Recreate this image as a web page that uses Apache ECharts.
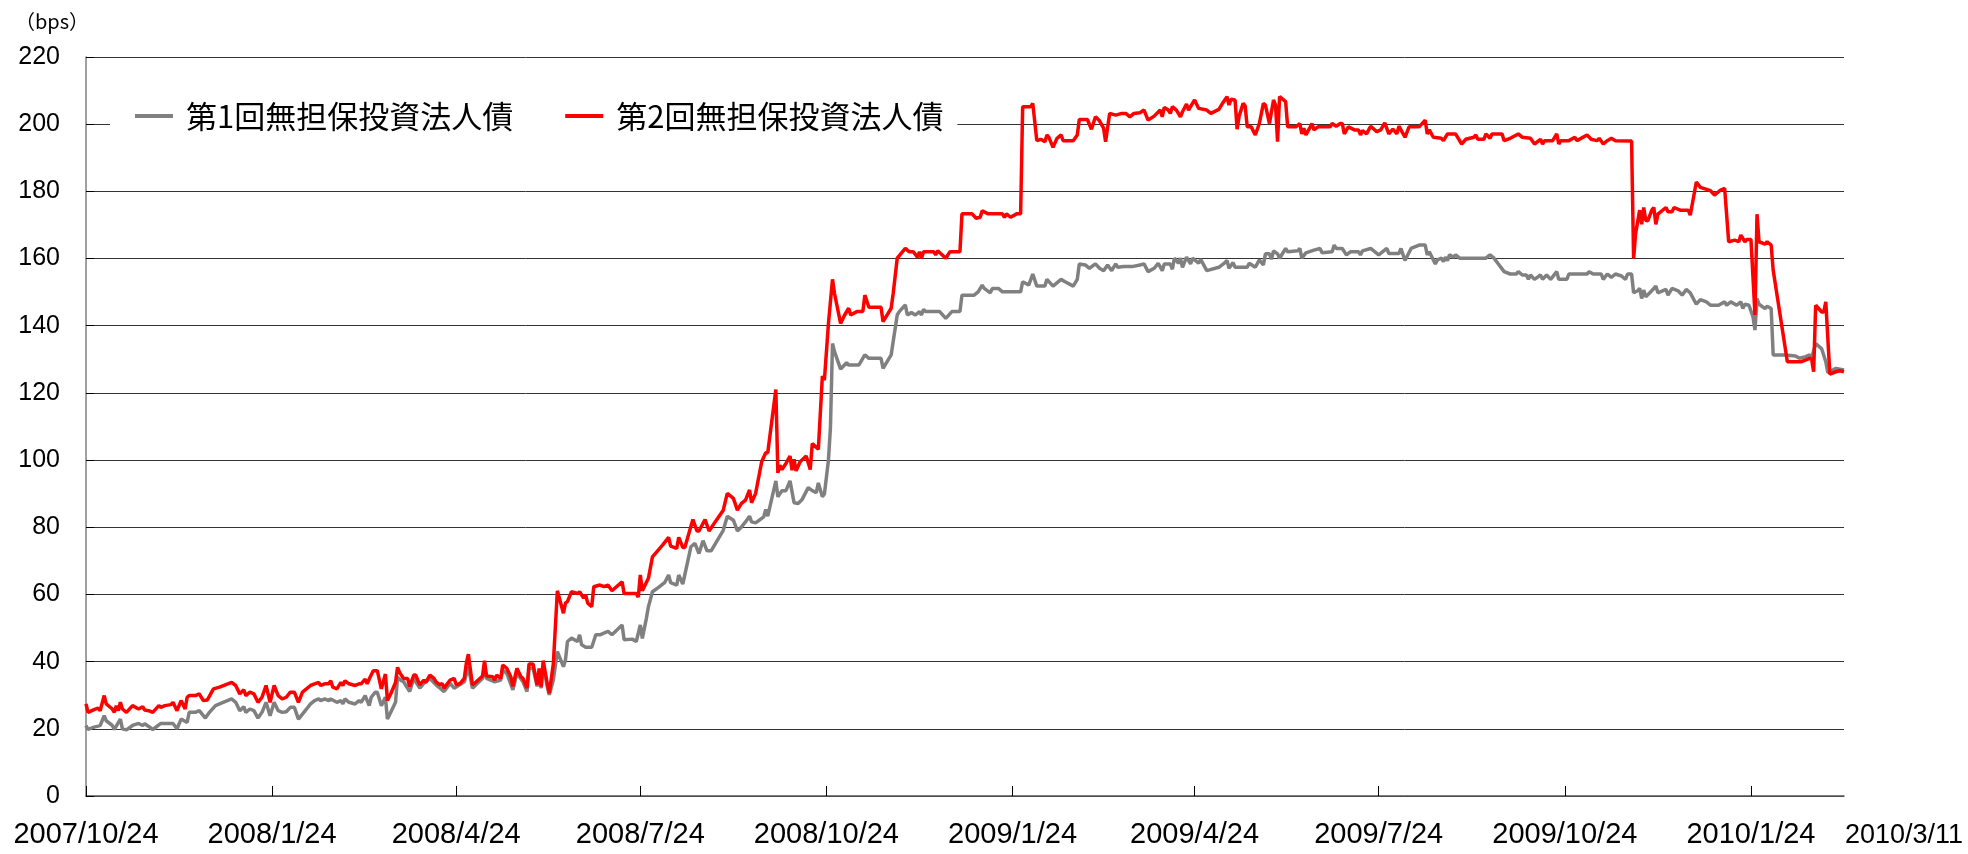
<!DOCTYPE html>
<html>
<head>
<meta charset="utf-8">
<title>無担保投資法人債 スプレッド推移</title>
<script src="https://cdn.jsdelivr.net/npm/echarts@6/dist/echarts.min.js"></script>
<style>
  html, body { margin: 0; padding: 0; background: #fff; }
  #chart { width: 1968px; height: 854px; }
</style>
</head>
<body>
<div id="chart"></div>
<script>
// Series names
const seriesNames = ['第1回無担保投資法人債', '第2回無担保投資法人債'];

// Axis range and quarterly tick dates
const startDate = '2007/10/24';
const endDate = '2010/3/11';
const tickDates = ['2007/10/24', '2008/1/24', '2008/4/24', '2008/7/24', '2008/10/24',
  '2009/1/24', '2009/4/24', '2009/7/24', '2009/10/24', '2010/1/24'];
const unitLabel = '（bps）';

// 第1回: observation day (days after startDate) and spread in bps
const bond1Days = [0,1,4,6,7,9,10,13,14,17,18,20,23,26,28,29,31,33,37,43,45,47,50,51,54,56,59,61,64,66,72,74,76,78,79,81,83,85,87,89,91,93,95,97,99,101,103,105,107,111,113,115,116,118,120,121,124,126,127,128,130,133,135,136,138,140,141,143,144,146,148,149,151,153,154,156,157,160,162,165,167,170,173,175,177,180,182,187,189,191,196,197,198,202,205,206,208,211,213,216,218,219,221,223,224,225,226,228,229,231,233,236,237,238,240,243,244,245,247,250,252,254,258,260,265,266,270,272,274,275,277,278,280,283,286,288,289,292,293,295,299,301,303,305,307,309,315,317,320,322,324,326,328,329,331,335,336,337,341,342,344,346,348,350,352,354,357,359,361,362,364,365,367,368,369,370,373,376,377,382,385,387,393,394,398,399,401,402,405,406,408,410,412,413,414,415,422,425,428,432,433,439,441,443,444,447,448,451,453,462,463,466,468,470,474,475,478,482,484,488,490,491,494,496,499,501,503,505,507,509,510,513,517,521,523,525,528,530,532,533,536,537,538,540,541,542,544,546,547,550,551,554,560,563,564,565,567,568,574,575,578,580,582,583,585,586,587,589,590,593,594,599,600,601,603,607,610,611,616,617,618,621,623,625,629,630,631,635,639,643,644,649,650,652,655,659,662,663,664,667,668,670,671,672,673,674,676,677,679,692,694,696,701,704,707,708,710,712,713,714,716,719,720,722,724,727,728,732,733,742,743,745,749,750,752,754,756,759,761,762,764,765,767,768,769,770,771,773,775,776,777,781,782,784,787,789,791,793,796,798,801,803,807,810,811,813,816,818,819,820,822,824,825,826,827,830,831,833,834,840,845,847,850,852,853,855,858,860,861,865,869];
const bond1Values = [21.0,19.8,20.5,20.8,21.0,23.9,22.4,21.0,19.8,22.9,20.0,19.7,21.0,21.6,21.0,21.5,20.7,19.8,21.6,21.6,20.0,22.9,21.9,24.9,24.9,25.4,23.2,24.9,26.9,27.4,28.9,27.9,25.4,26.6,24.9,25.9,25.4,23.2,24.9,27.9,23.9,27.9,25.4,24.9,25.1,26.4,26.4,22.9,24.4,27.4,28.4,28.9,28.4,28.9,28.4,28.9,27.9,28.4,27.4,28.9,27.9,27.4,28.4,27.9,29.9,26.9,29.4,30.9,30.9,26.9,29.4,22.9,25.4,27.9,35.3,34.3,34.0,31.1,35.0,32.1,33.5,35.0,33.1,32.1,31.1,33.5,32.1,34.0,38.5,32.1,35.0,38.5,35.0,34.0,34.5,37.5,36.5,31.6,36.5,34.0,31.1,38.0,38.0,32.6,37.0,32.1,39.0,32.6,30.1,34.5,43.0,38.5,40.5,46.0,47.0,46.0,48.0,45.0,44.3,44.3,48.0,48.0,49.0,48.0,50.9,46.5,46.7,46.0,50.9,46.9,52.9,56.3,60.8,62.1,63.5,65.8,63.5,62.8,65.8,63.1,74.2,75.2,72.2,76.0,73.0,73.0,79.1,83.3,82.1,78.9,80.1,81.6,83.3,81.6,81.3,83.1,85.3,83.3,93.8,89.1,90.9,90.9,93.8,87.3,87.1,88.3,91.8,90.9,90.3,93.2,89.1,89.9,100.0,109.9,134.7,132.3,127.1,129.0,128.3,128.3,131.3,130.3,130.3,127.3,131.3,135.3,143.2,144.2,146.2,143.2,143.9,143.2,144.2,143.2,144.9,144.2,144.2,142.2,144.2,144.2,149.1,149.1,150.1,152.1,151.1,149.8,151.1,151.1,150.1,150.1,153.1,152.1,155.4,151.8,151.8,153.8,151.8,153.8,153.1,151.8,153.8,158.4,158.1,157.1,158.4,157.1,156.4,158.1,156.4,158.4,157.4,157.6,157.6,158.1,158.4,156.1,157.1,158.6,156.4,158.4,158.4,156.8,160.1,158.6,160.1,157.4,160.4,158.4,160.1,158.6,159.8,156.4,157.4,158.8,159.4,157.1,158.8,157.4,157.4,158.6,157.4,159.6,158.1,161.4,161.4,159.8,162.3,161.4,160.1,163.0,162.0,162.3,163.0,160.1,161.7,162.5,163.0,161.7,162.0,164.0,163.0,163.0,161.1,162.0,162.0,161.1,162.3,163.0,161.1,163.0,161.5,161.5,163.0,159.4,163.0,164.0,164.0,161.1,162.0,158.4,159.6,160.1,159.1,160.4,159.4,161.1,160.4,161.1,160.1,160.1,161.1,160.1,156.1,155.4,155.4,156.1,155.1,155.1,153.8,155.1,153.8,155.1,153.8,155.1,153.8,156.1,153.8,153.8,155.4,155.4,156.1,155.4,155.4,153.8,155.4,154.4,155.4,154.8,153.8,155.4,155.4,149.8,150.4,151.1,148.1,150.6,148.6,149.8,151.1,151.8,149.8,150.8,149.1,151.1,150.4,149.1,150.8,149.8,146.4,147.8,147.1,146.1,146.1,147.1,146.1,147.1,146.1,147.1,145.1,146.4,146.1,142.7,138.7,148.1,146.4,145.1,145.8,145.1,131.3,131.3,131.0,130.3,130.8,131.3,130.3,134.7,133.1,129.3,126.0,127.3,126.8];

// 第2回: observation day (days after startDate) and spread in bps
const bond2Days = [0,1,4,6,7,9,10,13,14,15,16,17,18,20,23,26,28,29,31,33,36,37,39,42,43,45,47,49,50,51,54,56,58,60,63,66,72,74,76,78,79,81,83,85,87,89,91,93,95,97,99,101,103,105,107,111,113,115,116,118,120,121,122,124,126,127,128,130,133,135,136,138,139,140,142,144,146,148,149,151,153,154,155,157,159,160,162,163,165,167,168,170,172,173,175,176,177,180,182,183,185,187,188,189,191,192,196,197,198,201,202,203,205,206,208,210,211,213,215,216,218,219,221,223,224,225,226,228,229,231,233,236,237,238,240,243,244,246,247,248,250,251,254,256,258,260,265,266,272,273,274,275,278,280,285,288,289,292,293,295,296,300,302,303,306,308,311,315,317,320,322,324,326,328,329,331,334,336,337,341,342,343,344,346,348,349,350,351,353,356,358,359,362,364,365,367,369,370,373,375,377,378,381,384,385,387,393,394,398,399,401,405,407,409,411,412,413,414,419,420,421,425,427,432,433,438,440,442,443,446,453,454,455,457,460,462,463,467,468,470,472,474,475,476,478,480,482,483,488,490,491,495,497,499,501,503,504,506,509,512,514,516,518,521,523,525,528,531,532,533,535,536,537,539,541,542,544,545,546,548,550,554,556,560,562,564,565,566,568,569,570,572,573,574,576,578,580,582,583,585,587,588,589,590,593,594,598,600,601,602,603,605,606,607,609,615,616,618,620,621,622,624,627,629,630,631,633,635,638,640,642,644,646,648,649,652,654,659,662,663,664,666,670,671,673,677,680,682,686,687,688,691,692,694,695,700,701,704,708,710,714,716,719,720,721,725,727,728,729,733,736,737,742,744,747,748,750,752,754,756,764,765,766,768,769,770,771,772,774,775,776,777,781,782,784,785,788,792,793,796,798,803,805,808,810,812,815,817,818,820,821,823,825,826,827,830,831,833,834,841,848,852,853,854,855,858,859,860,862,865,867,869];
const bond2Values = [27.4,24.9,25.7,26.2,25.4,29.9,27.4,25.9,24.9,26.9,25.4,27.9,25.9,24.9,26.9,25.9,26.6,25.6,25.4,24.9,26.9,26.4,26.9,27.2,27.9,25.4,28.4,25.9,29.4,29.9,29.9,30.4,28.4,28.6,31.9,32.4,33.8,32.9,30.4,31.6,29.9,30.9,30.4,27.9,29.4,32.9,27.9,32.9,29.9,28.9,29.4,30.9,30.9,27.9,30.9,32.9,33.4,33.8,32.9,33.4,33.4,34.3,32.4,31.9,33.8,32.9,34.3,33.4,32.9,33.4,33.4,34.8,33.4,34.8,37.3,37.3,31.9,36.3,28.4,30.9,33.8,38.3,36.8,35.0,35.0,32.6,36.0,36.0,33.1,34.5,33.8,36.0,35.0,34.0,33.1,33.5,32.1,34.5,35.0,33.1,33.5,35.0,39.5,42.2,33.1,33.5,35.7,40.3,35.7,35.5,34.5,36.0,35.0,39.0,38.0,35.5,32.6,38.0,35.5,35.0,32.1,39.3,39.3,33.1,38.0,32.6,40.3,33.5,30.6,39.3,61.1,54.4,57.4,57.9,60.8,60.3,60.8,58.9,59.9,57.4,56.4,62.3,62.8,62.3,62.8,61.1,63.8,60.3,60.3,59.2,65.8,61.1,64.8,71.2,74.7,77.0,74.4,73.7,77.0,74.0,74.0,82.3,78.9,78.9,82.3,78.9,81.6,85.1,90.1,88.6,85.1,87.1,88.1,91.1,87.3,90.1,99.5,102.2,102.2,121.0,96.2,98.5,97.2,99.0,101.2,97.0,100.2,96.8,99.5,101.2,97.2,104.9,103.2,125.0,123.8,140.7,153.8,149.6,140.7,143.2,145.2,143.2,144.2,144.2,149.1,145.5,145.5,141.2,145.2,149.6,160.1,163.0,162.0,162.0,160.4,162.0,160.1,162.0,162.0,161.1,162.3,160.1,162.0,162.0,173.3,173.3,172.0,172.3,174.2,173.3,173.3,172.3,173.3,172.3,173.3,173.3,205.2,205.2,206.2,195.1,195.5,194.8,196.8,196.1,193.1,195.8,196.8,195.1,195.1,196.8,201.4,201.4,198.5,202.2,201.0,198.8,194.8,203.2,202.7,203.2,203.2,202.2,203.2,203.4,204.2,201.2,202.4,204.2,202.2,205.0,204.2,203.2,205.2,204.2,202.2,203.7,206.0,204.2,205.2,207.2,204.7,204.2,203.2,204.4,206.4,208.2,205.7,207.4,207.2,198.5,202.4,206.2,205.4,199.2,199.2,196.8,200.2,206.2,205.7,200.2,207.2,205.7,194.8,208.2,206.7,199.2,199.2,200.2,197.1,198.8,196.8,199.0,200.2,198.3,199.2,199.2,200.2,199.4,200.2,200.2,197.1,199.2,198.3,198.3,196.8,198.1,197.1,199.4,197.8,198.3,200.4,197.1,198.5,197.1,199.4,196.1,199.2,199.2,201.2,197.1,198.3,196.1,195.8,195.1,197.1,197.1,194.1,195.5,196.1,196.8,195.5,195.5,197.1,195.8,197.1,197.1,195.1,195.8,197.1,196.1,195.8,194.1,195.5,194.1,195.1,195.1,197.1,194.1,195.1,195.1,196.1,195.1,196.8,195.5,195.1,195.8,194.1,195.1,195.8,195.1,195.0,160.0,167.5,174.4,170.2,175.2,171.4,171.2,174.4,175.2,170.2,173.2,175.2,173.9,173.9,175.2,174.4,174.4,172.9,182.8,181.2,180.2,178.9,180.4,180.9,165.0,165.5,165.0,167.0,165.0,165.7,165.7,143.2,173.2,165.0,164.3,165.0,164.0,156.5,129.3,129.3,130.3,130.0,126.3,146.1,144.1,144.1,147.1,125.6,126.3,126.6,126.3];

// Calendar helpers: the x axis counts days from startDate
const DAY_MS = 86400000;
function parseDate(s) {
  const p = s.split('/').map(Number);
  return Date.UTC(p[0], p[1] - 1, p[2]);
}
const startTime = parseDate(startDate);
function dateToDay(s) {
  return Math.round((parseDate(s) - startTime) / DAY_MS);
}
function dayToLabel(n) {
  const d = new Date(startTime + Math.round(n) * DAY_MS);
  return d.getUTCFullYear() + '/' + (d.getUTCMonth() + 1) + '/' + d.getUTCDate();
}
function toPairs(days, values) {
  return days.map((d, i) => [d, values[i]]);
}

const tickDays = tickDates.map(dateToDay);
const chart = echarts.init(document.getElementById('chart'));

chart.setOption({
  animation: false,
  backgroundColor: '#fff',
  grid: { left: 86, right: 124, top: 57, bottom: 58, containLabel: false },
  legend: {
    data: seriesNames,
    left: 110,
    top: 93,
    padding: [6, 14, 6, 25],
    backgroundColor: '#fff',
    icon: 'rect',
    itemWidth: 38,
    itemHeight: 4,
    itemGap: 52,
    textStyle: {
      fontFamily: 'Noto Sans CJK JP',
      fontSize: 31,
      lineHeight: 34,
      color: '#000',
      padding: [0, 0, 0, 8]
    }
  },
  xAxis: {
    type: 'value',
    min: 0,
    max: dateToDay(endDate),
    splitLine: { show: false },
    axisLine: { lineStyle: { color: '#555', width: 1.5 } },
    axisTick: {
      inside: true,
      length: 10,
      customValues: tickDays,
      lineStyle: { color: '#000', width: 1 }
    },
    axisLabel: {
      customValues: tickDays,
      formatter: dayToLabel,
      fontFamily: 'Liberation Sans',
      fontSize: 29,
      color: '#000',
      margin: 24
    }
  },
  yAxis: {
    type: 'value',
    min: 0,
    max: 220,
    interval: 20,
    axisLine: { show: true, lineStyle: { color: '#808080', width: 1.5 } },
    axisTick: { show: true, inside: true, length: 8, lineStyle: { color: '#000' } },
    splitLine: { lineStyle: { color: '#333', width: 1 } },
    axisLabel: {
      fontFamily: 'Liberation Sans',
      fontSize: 25,
      color: '#000',
      margin: 26
    }
  },
  graphic: [
    {
      type: 'text',
      left: 15,
      top: 11,
      style: { text: unitLabel, font: '20px "Noto Sans CJK JP"', fill: '#000' }
    },
    {
      type: 'text',
      left: 1845,
      top: 822,
      style: { text: endDate, font: '27px "Liberation Sans"', fill: '#000' }
    }
  ],
  series: [
    {
      name: seriesNames[0],
      type: 'line',
      data: toPairs(bond1Days, bond1Values),
      showSymbol: false,
      symbol: 'none',
      color: '#808080',
      lineStyle: { color: '#808080', width: 3.5 },
      z: 2
    },
    {
      name: seriesNames[1],
      type: 'line',
      data: toPairs(bond2Days, bond2Values),
      showSymbol: false,
      symbol: 'none',
      color: '#ff0000',
      lineStyle: { color: '#ff0000', width: 3.5 },
      z: 3
    }
  ]
});
</script>
</body>
</html>
